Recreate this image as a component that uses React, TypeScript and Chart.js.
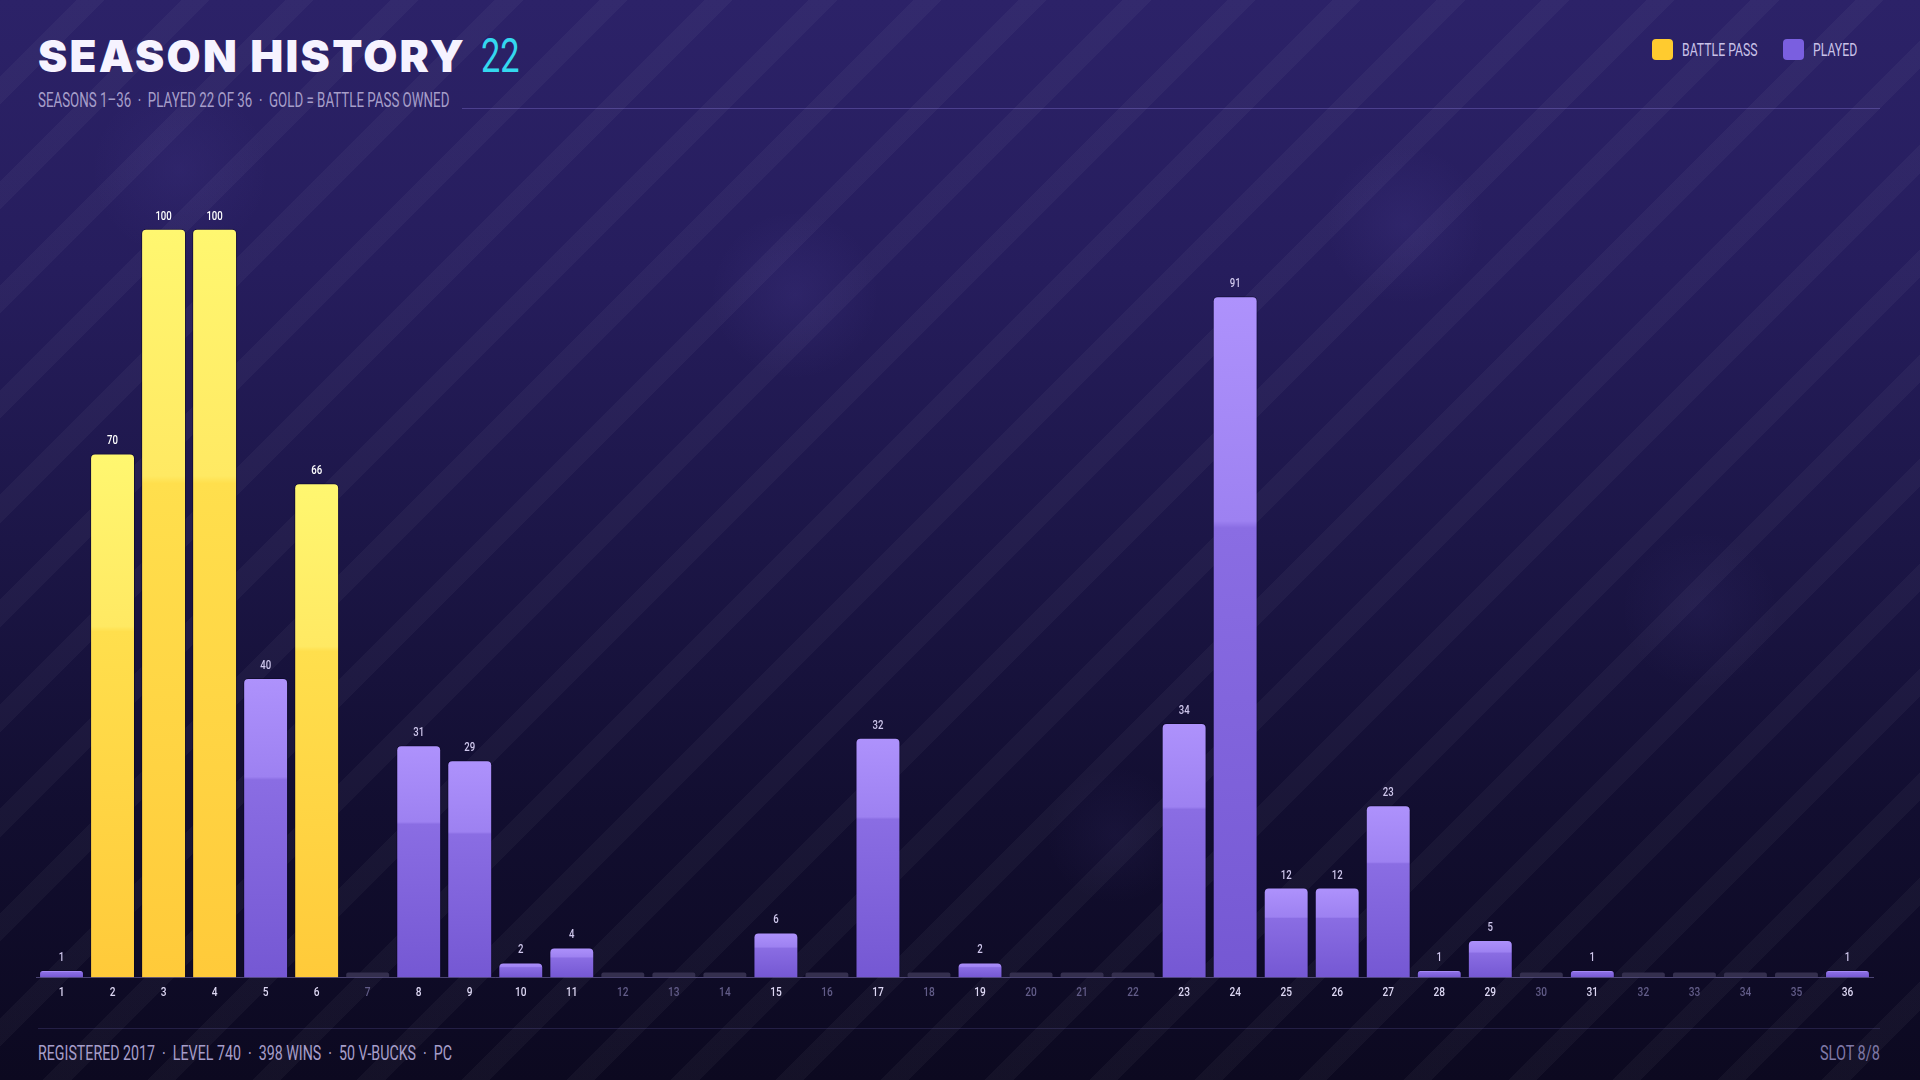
import React, { useEffect, useRef } from "react";
import { Chart, registerables } from "chart.js";

Chart.register(...registerables);

// ---------- data ----------
const seasonLabels = [
  "1", "2", "3", "4", "5", "6", "7", "8", "9", "10", "11", "12",
  "13", "14", "15", "16", "17", "18", "19", "20", "21", "22", "23", "24",
  "25", "26", "27", "28", "29", "30", "31", "32", "33", "34", "35", "36",
];
const seasonValues = [
  1, 70, 100, 100, 40, 66, 0, 31, 29, 2, 4, 0,
  0, 0, 6, 0, 32, 0, 2, 0, 0, 0, 34, 91,
  12, 12, 23, 1, 5, 0, 1, 0, 0, 0, 0, 1,
];
const battlePassSeasons = [2, 3, 4, 6];

const titleText = "SEASON HISTORY";
const titleCount = "22";
const subtitleText = "SEASONS 1\u201336  \u00b7  PLAYED 22 OF 36  \u00b7  GOLD = BATTLE PASS OWNED";
const legendItems = ["BATTLE PASS", "PLAYED"];
const footerLeft = "REGISTERED 2017  \u00b7  LEVEL 740  \u00b7  398 WINS  \u00b7  50 V-BUCKS  \u00b7  PC";
const footerRight = "SLOT 8/8";

// ---------- style ----------
const NARROW = 'Roboto, "Noto Sans", sans-serif';
const GOLD_SWATCH = "#ffcb2f";
const PURPLE_SWATCH = "#7a5fe0";

const isBattlePass = (i: number) => battlePassSeasons.includes(i + 1);

const condensedText = (
  ctx: CanvasRenderingContext2D,
  text: string,
  x: number,
  y: number,
  sx: number
) => {
  ctx.save();
  ctx.translate(x, y);
  ctx.scale(sx, 1);
  ctx.fillText(text, 0, 0);
  ctx.restore();
};

const labelPlugin = {
  id: "condensedLabels",
  afterDatasetsDraw(chart: any) {
    const ctx = chart.ctx as CanvasRenderingContext2D;
    const meta = chart.getDatasetMeta(0);
    const xs = chart.scales.x;
    const bottom = chart.chartArea.bottom;
    ctx.save();
    ctx.textAlign = "center";
    // value labels above bars
    ctx.textBaseline = "bottom";
    meta.data.forEach((el: any, i: number) => {
      const v = seasonValues[i];
      if (!v) return;
      ctx.font = `500 12px ${NARROW}`;
      ctx.fillStyle = isBattlePass(i) ? "#ffffff" : "#cfc7ec";
      condensedText(ctx, String(v), el.x, el.y - 6, 0.8);
    });
    // category labels under axis
    ctx.textBaseline = "top";
    seasonLabels.forEach((lab, i) => {
      const x = xs.getPixelForValue(i);
      ctx.font = `500 13px ${NARROW}`;
      ctx.fillStyle = seasonValues[i] ? "#ddd7f3" : "#625c88";
      condensedText(ctx, lab, x, bottom + 9, 0.78);
    });
    ctx.restore();
  },
};

export default function App() {
  const ref = useRef<HTMLCanvasElement>(null);

  useEffect(() => {
    document.body.style.margin = "0";
    const canvas = ref.current;
    if (!canvas) return;
    const chart = new Chart(canvas, {
      type: "bar",
      data: {
        labels: seasonLabels,
        datasets: [
          {
            label: "Played",
            data: seasonValues,
            minBarLength: 6,
            barPercentage: 0.88,
            categoryPercentage: 1,
            borderRadius: 5,
            borderSkipped: "start",
            borderWidth: 1,
            borderColor: (c: any) =>
              seasonValues[c.dataIndex] ? "rgba(10,6,32,0.55)" : "rgba(0,0,0,0)",
            backgroundColor: (c: any) => {
              const i = c.dataIndex;
              const v = seasonValues[i];
              const chart = c.chart;
              if (!v) return "#342f4e";
              const bp = isBattlePass(i);
              const ys = chart.scales && chart.scales.y;
              if (!ys || !chart.chartArea) return bp ? GOLD_SWATCH : PURPLE_SWATCH;
              const top = ys.getPixelForValue(v);
              const base = ys.getPixelForValue(0);
              if (!isFinite(top) || !isFinite(base) || base - top < 1)
                return bp ? GOLD_SWATCH : PURPLE_SWATCH;
              const g = chart.ctx.createLinearGradient(0, top, 0, base);
              if (bp) {
                g.addColorStop(0, "#fff770");
                g.addColorStop(0.33, "#ffe963");
                g.addColorStop(0.34, "#ffdf4d");
                g.addColorStop(1, "#ffca3a");
              } else {
                g.addColorStop(0, "#ae92fc");
                g.addColorStop(0.33, "#9d81f1");
                g.addColorStop(0.34, "#8a6de3");
                g.addColorStop(1, "#7558d3");
              }
              return g;
            },
          } as any,
        ],
      },
      options: {
        animation: false,
        responsive: false,
        maintainAspectRatio: false,
        devicePixelRatio: 1,
        layout: { padding: { left: 36, right: 47, top: 14, bottom: 11 } },
        plugins: {
          legend: { display: false },
          tooltip: { enabled: false },
        },
        scales: {
          x: {
            grid: { display: false, drawTicks: false },
            border: { display: true, color: "rgba(150,138,210,0.45)", width: 1 },
            ticks: {
              autoSkip: false,
              maxRotation: 0,
              padding: 8,
              font: { family: NARROW, size: 13 },
              color: "rgba(0,0,0,0)",
            },
          },
          y: {
            display: false,
            min: 0,
            max: 110,
          },
        },
      },
      plugins: [labelPlugin],
    } as any);
    return () => chart.destroy();
  }, []);

  const bokeh = [
    { x: 180, y: 170, r: 90, a: 0.06 },
    { x: 795, y: 295, r: 85, a: 0.08 },
    { x: 1405, y: 225, r: 80, a: 0.07 },
    { x: 1700, y: 610, r: 80, a: 0.05 },
    { x: 1115, y: 835, r: 70, a: 0.05 },
  ];

  const squeeze = (sx: number, origin = "left"): React.CSSProperties => ({
    display: "inline-block",
    transform: `scaleX(${sx})`,
    transformOrigin: `${origin} center`,
    whiteSpace: "pre",
  });

  return (
    <div
      style={{
        position: "fixed",
        left: 0,
        top: 0,
        width: 1920,
        height: 1080,
        overflow: "hidden",
        background:
          "linear-gradient(180deg, #2c2268 0%, #261d5d 25%, #1c1647 50%, #120e30 75%, #0c0920 100%)",
        fontFamily: NARROW,
      }}
    >
      <div
        style={{
          position: "absolute",
          inset: 0,
          background:
            "repeating-linear-gradient(135deg, rgba(255,255,255,0) 0px, rgba(255,255,255,0) 54px, rgba(255,255,255,0.035) 54px, rgba(255,255,255,0.035) 74px)",
        }}
      />
      {bokeh.map((b, k) => (
        <div
          key={k}
          style={{
            position: "absolute",
            left: b.x - b.r,
            top: b.y - b.r,
            width: b.r * 2,
            height: b.r * 2,
            borderRadius: "50%",
            background: `radial-gradient(circle, rgba(150,130,255,${b.a}) 0%, rgba(150,130,255,0) 70%)`,
          }}
        />
      ))}

      {/* header */}
      <div
        style={{
          position: "absolute",
          left: 38,
          top: 30,
          fontFamily: "Inter, Lato, sans-serif",
          fontWeight: 900,
          fontSize: 44,
          color: "#f6f3ff",
          letterSpacing: 2.3,
          lineHeight: "52px",
          whiteSpace: "pre",
        }}
      >
        {titleText}
      </div>
      <div
        style={{
          position: "absolute",
          left: 481,
          top: 28,
          fontSize: 49,
          lineHeight: "56px",
          color: "#34d8ef",
        }}
      >
        <span style={squeeze(0.7)}>{titleCount}</span>
      </div>
      <div
        style={{
          position: "absolute",
          left: 38,
          top: 89,
          fontSize: 20,
          lineHeight: "22px",
          color: "#a69ec9",
        }}
      >
        <span style={squeeze(0.666)}>{subtitleText}</span>
      </div>
      <div
        style={{
          position: "absolute",
          left: 462,
          right: 40,
          top: 108,
          height: 1,
          background: "rgba(140,124,220,0.35)",
        }}
      />

      {/* legend */}
      {legendItems.map((t, k) => (
        <div
          key={t}
          style={{
            position: "absolute",
            left: k === 0 ? 1652 : 1783,
            top: 39,
            display: "flex",
            alignItems: "center",
            height: 21,
          }}
        >
          <div
            style={{
              width: 21,
              height: 21,
              borderRadius: 4,
              background: k === 0 ? GOLD_SWATCH : PURPLE_SWATCH,
              marginRight: 9,
              flex: "none",
            }}
          />
          <span style={{ fontSize: 18, color: "#c9c2e8", ...squeeze(0.68) }}>{t}</span>
        </div>
      ))}

      <canvas
        ref={ref}
        width={1920}
        height={880}
        style={{ position: "absolute", left: 0, top: 140, width: 1920, height: 880 }}
      />

      {/* footer */}
      <div
        style={{
          position: "absolute",
          left: 38,
          width: 1842,
          top: 1028,
          height: 1,
          background: "rgba(120,108,190,0.22)",
        }}
      />
      <div
        style={{
          position: "absolute",
          left: 38,
          top: 1041,
          fontSize: 21,
          color: "#a69ec9",
          lineHeight: "24px",
        }}
      >
        <span style={squeeze(0.677)}>{footerLeft}</span>
      </div>
      <div
        style={{
          position: "absolute",
          right: 40,
          top: 1041,
          fontSize: 21,
          color: "#7f78a6",
          lineHeight: "24px",
        }}
      >
        <span style={squeeze(0.69, "right")}>{footerRight}</span>
      </div>
    </div>
  );
}
